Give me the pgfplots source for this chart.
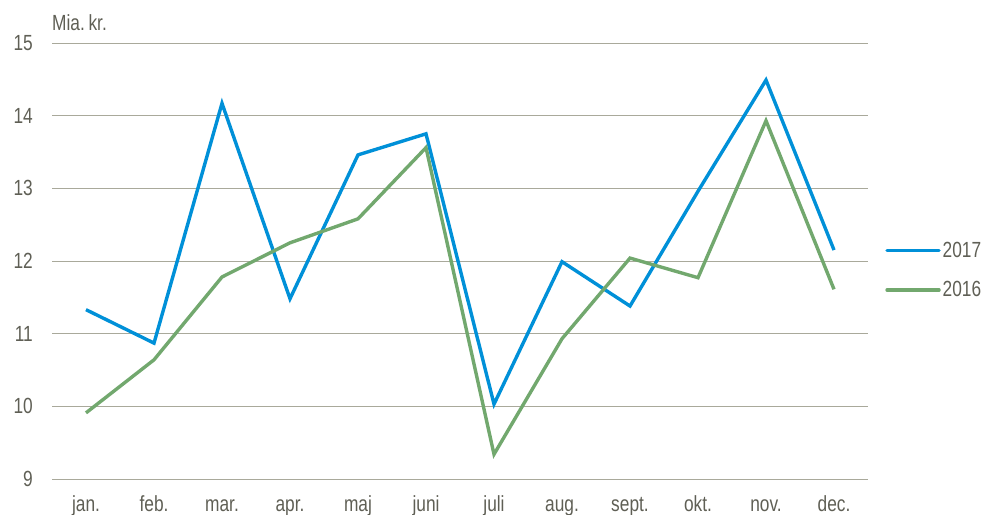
\documentclass[border=0pt]{standalone}
\usepackage{pgfplots}
\pgfplotsset{compat=1.18}
\usepackage{fontspec}
\setmainfont{Liberation Sans}[FakeStretch=0.79]
\definecolor{txt}{HTML}{5F5F55}
\definecolor{gridc}{HTML}{A9A99B}
\definecolor{blue17}{HTML}{0090D8}
\definecolor{green16}{HTML}{72A86E}
\begin{document}
\begin{tikzpicture}[x=1bp,y=1bp]
\useasboundingbox (0,0) rectangle (983,515);
\begin{axis}[
  at={(52bp,36bp)}, anchor=south west,
  scale only axis, width=816bp, height=436bp,
  xmin=-0.5, xmax=11.5, ymin=9, ymax=15,
  xtick={0,...,11},
  xticklabels={jan.,feb.,mar.,apr.,maj,juni,juli,aug.,sept.,okt.,nov.,dec.},
  ytick={9,...,15},
  axis line style={draw=none},
  tick style={draw=none},
  ymajorgrids, grid style={gridc, line width=0.9bp},
  ticklabel style={font=\fontsize{22}{25}\selectfont, text=txt},
  yticklabel style={anchor=east, inner sep=0pt, xshift=-19bp},
  xticklabel style={anchor=base, inner sep=0pt, yshift=-33bp},
  /pgf/number format/assume math mode=true,
  clip=false,
  legend style={draw=none, fill=none, at={(1.021,0.479)}, anchor=west,
    font=\fontsize{22}{25}\selectfont, text=txt, row sep=19bp,
    legend cell align=left, inner xsep=0pt},
  legend image code/.code={\draw[#1, line width=3.4bp, line cap=round] (0bp,0bp) -- (52bp,0bp);},
]
\addplot[blue17, line width=3.4bp, line join=miter] coordinates {
(0,11.33)(1,10.87)(2,14.17)(3,11.48)(4,13.46)(5,13.75)(6,10.03)(7,11.99)(8,11.38)(9,12.96)(10,14.49)(11,12.15)};
\addlegendentry{2017}
\addplot[green16, line width=3.4bp, line join=miter] coordinates {
(0,9.91)(1,10.64)(2,11.78)(3,12.25)(4,12.58)(5,13.56)(6,9.34)(7,10.93)(8,12.04)(9,11.77)(10,13.93)(11,11.61)};
\addlegendentry{2016}
\node[anchor=base west, inner sep=0pt, font=\fontsize{22}{25}\selectfont, text=txt] at (rel axis cs:0,1) [yshift=12bp] {Mia.\,kr.};
\end{axis}
\end{tikzpicture}
\end{document}
